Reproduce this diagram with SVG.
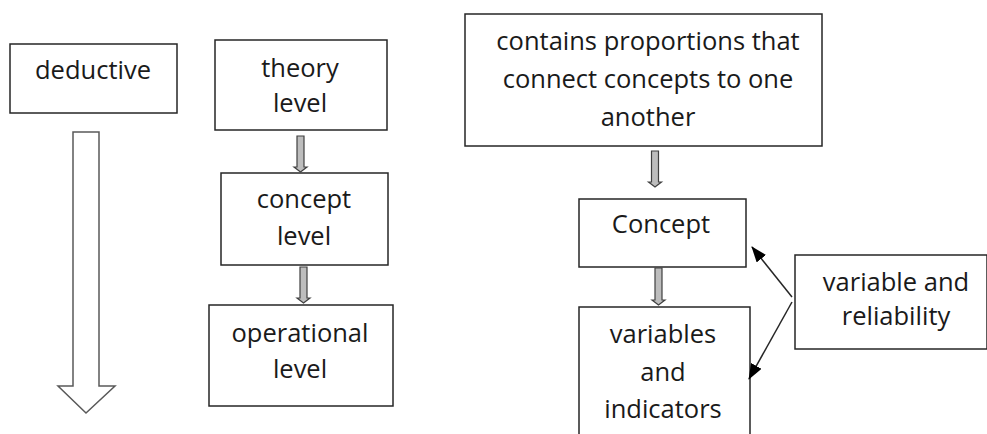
<svg xmlns="http://www.w3.org/2000/svg" width="987" height="434" viewBox="0 0 987 434">
<style>
.box{fill:#fff;stroke:#262626;stroke-width:1.5}
.t{font-family:"Open Sans","Liberation Sans",sans-serif;font-size:25.5px;fill:#1a1a1a;text-anchor:middle}
.blk{fill:#bdbdbd;stroke:#404040;stroke-width:1.2}
.big{fill:#fff;stroke:#595959;stroke-width:1.5}
.ln{stroke:#262626;stroke-width:1.5;fill:none}
</style>
<defs>
<marker id="ah" markerWidth="16" markerHeight="12" refX="15" refY="6" orient="auto" markerUnits="userSpaceOnUse" viewBox="0 0 16 12">
<path d="M0,0 L16,6 L0,12 z" fill="#000"/>
</marker>
</defs>
<g id="deductive"><rect class="box" x="10" y="44" width="167" height="69"/><text class="t" x="93" y="79">deductive</text></g>
<g id="theory"><rect class="box" x="215" y="40" width="172" height="90"/><text class="t" x="300" y="77">theory</text><text class="t" x="300" y="112">level</text></g>
<g id="concept-level"><rect class="box" x="221" y="173" width="167" height="92"/><text class="t" x="304" y="208">concept</text><text class="t" x="304" y="245">level</text></g>
<g id="operational"><rect class="box" x="209" y="305" width="184" height="101"/><text class="t" x="300" y="342">operational</text><text class="t" x="300" y="378">level</text></g>
<g id="contains"><rect class="box" x="465" y="14" width="357" height="132"/><text class="t" x="648" y="50">contains proportions that</text><text class="t" x="648" y="88">connect concepts to one</text><text class="t" x="648" y="126">another</text></g>
<g id="concept"><rect class="box" x="579" y="199" width="167" height="68"/><text class="t" x="661" y="233">Concept</text></g>
<g id="variables"><rect class="box" x="579" y="307" width="171" height="140"/><text class="t" x="663" y="343">variables</text><text class="t" x="663" y="381">and</text><text class="t" x="663" y="418">indicators</text></g>
<g id="reliability"><rect class="box" x="795" y="255" width="192" height="94"/><text class="t" x="896" y="291">variable and</text><text class="t" x="896" y="325">reliability</text></g>
<g id="connectors">
<polygon class="big" points="73,132 99,132 99,386 115,386 86,413 58,386 73,386"/>
<polygon class="blk" points="297,136 304,136 304,167 307,167 300.5,172 294,167 297,167"/>
<polygon class="blk" points="300,267 307,267 307,298 310,298 303.5,303 297,298 300,298"/>
<polygon class="blk" points="651.5,151 658.5,151 658.5,182 661.5,182 655,187 648.5,182 651.5,182"/>
<polygon class="blk" points="655,268 662,268 662,300 665,300 658.5,305 652,300 655,300"/>
<line class="ln" x1="792" y1="297" x2="752" y2="247" marker-end="url(#ah)"/>
<line class="ln" x1="792" y1="302" x2="749" y2="379" marker-end="url(#ah)"/>
</g>
</svg>
